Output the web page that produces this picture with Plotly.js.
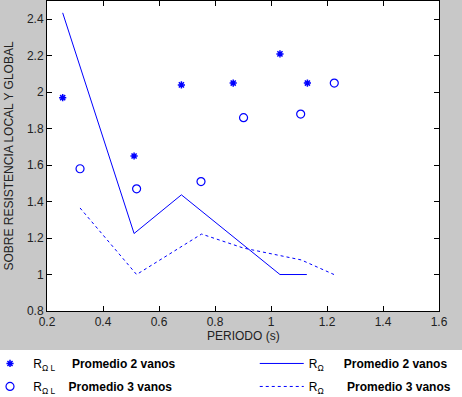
<!DOCTYPE html>
<html>
<head>
<meta charset="utf-8">
<script src="https://cdn.plot.ly/plotly-3.0.1.min.js"></script>
<style>
html,body{margin:0;padding:0;background:#ffffff;}
#chart{width:462px;height:397px;background:linear-gradient(to bottom,#c8c8c8 0px,#c8c8c8 350px,#ffffff 350px,#ffffff 397px);}
</style>
</head>
<body>
<div id="chart"></div>
<script>
// Local over-strength, average of 2 spans (stars)
var periodLocal2 = [0.256, 0.511, 0.680, 0.865, 1.032, 1.130];
var rLocal2      = [1.97, 1.65, 2.04, 2.05, 2.21, 2.05];
// Local over-strength, average of 3 spans (circles)
var periodLocal3 = [0.318, 0.520, 0.750, 0.902, 1.106, 1.226];
var rLocal3      = [1.58, 1.47, 1.51, 1.86, 1.88, 2.05];
// Global over-strength, average of 2 spans (solid line)
var periodGlobal2 = [0.256, 0.511, 0.680, 1.032, 1.128];
var rGlobal2      = [2.435, 1.225, 1.437, 1.0, 1.0];
// Global over-strength, average of 3 spans (dashed line)
var periodGlobal3 = [0.318, 0.520, 0.752, 0.902, 1.108, 1.225];
var rGlobal3      = [1.365, 1.0, 1.222, 1.145, 1.08, 1.0];

var xTicks = [0.2, 0.4, 0.6, 0.8, 1, 1.2, 1.4, 1.6];
var yTicks = [0.8, 1, 1.2, 1.4, 1.6, 1.8, 2, 2.2, 2.4];

var names = [
  '&nbsp;R<sub>\u03A9 L</sub>&nbsp;&nbsp;&nbsp;&nbsp;&nbsp;<b>Promedio 2 vanos</b>',
  '&nbsp;R<sub>\u03A9 L</sub>&nbsp;&nbsp;&nbsp;&nbsp;<b>Promedio 3 vanos</b>',
  'R<sub>\u03A9</sub>&nbsp;&nbsp;&nbsp;&nbsp;&nbsp;&nbsp;<b>Promedio 2 vanos</b>',
  'R<sub>\u03A9</sub>&nbsp;&nbsp;&nbsp;&nbsp;&nbsp;&nbsp;&nbsp;<b>Promedio 3 vanos</b>'
];

var traces = [
  {x: periodLocal2, y: rLocal2, mode: 'markers', name: names[0], legend: 'legend', legendgroup: 'a',
   marker: {symbol: 'asterisk-open', size: 6, color: '#0000ff', line: {color: '#0000ff', width: 1.5}}},
  {x: periodLocal3, y: rLocal3, mode: 'markers', name: names[1], legend: 'legend', legendgroup: 'b',
   marker: {symbol: 'circle-open', size: 8, color: '#0000ff', line: {color: '#0000ff', width: 1.2}}},
  {x: periodGlobal2, y: rGlobal2, mode: 'lines', name: names[2], legend: 'legend2', legendgroup: 'c',
   line: {color: '#0000ff', width: 1}},
  {x: periodGlobal3, y: rGlobal3, mode: 'lines', name: names[3], legend: 'legend2', legendgroup: 'd',
   line: {color: '#0000ff', width: 1, dash: '3px,3px'}}
];

var axisFont = {family: 'Liberation Sans, Arial, sans-serif', size: 12, color: '#222'};
var legFont = {family: 'Liberation Sans, Arial, sans-serif', size: 12, color: '#000'};

var layout = {
  width: 462, height: 397,
  margin: {l: 47, r: 23, t: 1, b: 86, pad: 0},
  paper_bgcolor: 'rgba(0,0,0,0)',
  plot_bgcolor: '#ffffff',
  showlegend: true,
  legend: {
    orientation: 'v', xref: 'paper', yref: 'container',
    x: -0.12, y: 0.121, xanchor: 'left', yanchor: 'top', indentation: -10,
    bgcolor: 'rgba(0,0,0,0)', borderwidth: 0, font: legFont, traceorder: 'grouped',
    tracegroupgap: 4
  },
  legend2: {
    orientation: 'v', xref: 'paper', yref: 'container',
    x: 0.530, y: 0.121, xanchor: 'left', yanchor: 'top',
    bgcolor: 'rgba(0,0,0,0)', borderwidth: 0, font: legFont, traceorder: 'grouped',
    tracegroupgap: 4, itemwidth: 44
  },
  xaxis: {
    range: [0.2, 1.6], tickvals: xTicks, ticktext: xTicks.map(String),
    showgrid: false, zeroline: false, showline: true, linecolor: '#000', linewidth: 1,
    mirror: 'ticks', ticks: 'inside', ticklen: 5, tickcolor: '#000',
    tickfont: axisFont
  },
  yaxis: {
    range: [0.8, 2.5], tickvals: yTicks, ticktext: yTicks.map(String),
    showgrid: false, zeroline: false, showline: true, linecolor: '#000', linewidth: 1,
    mirror: 'ticks', ticks: 'inside', ticklen: 5, tickcolor: '#000',
    tickfont: axisFont,
    title: {text: 'SOBRE RESISTENCIA LOCAL Y GLOBAL', font: axisFont}
  },
  annotations: [{
    text: 'PERIODO (s)', xref: 'paper', yref: 'paper', x: 0.5, y: -0.081,
    xanchor: 'center', yanchor: 'middle', showarrow: false, font: axisFont
  }]
};

Plotly.newPlot('chart', traces, layout, {displayModeBar: false, staticPlot: true});
</script>
</body>
</html>
